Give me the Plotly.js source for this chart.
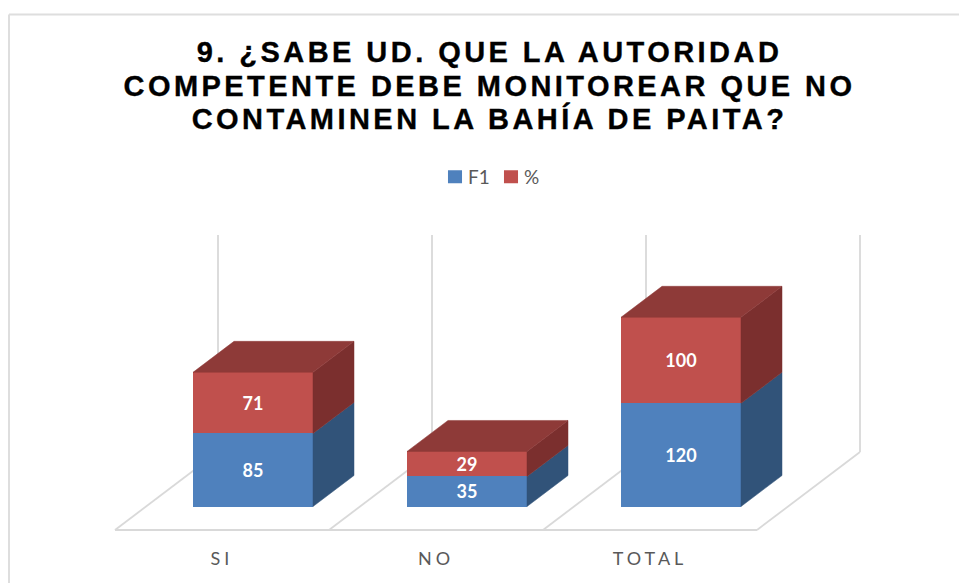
<!DOCTYPE html>
<html>
<head>
<meta charset="utf-8">
<script src="https://cdn.plot.ly/plotly-3.0.1.min.js"></script>
<style>
html,body{margin:0;padding:0;background:#fff;overflow:hidden}
#chart{width:959px;height:583px}
.gtitle{letter-spacing:3.45px;stroke:#000;stroke-width:0.35px}
.xtick text{letter-spacing:4px}
</style>
</head>
<body>
<div id="chart"></div>
<script>
const categories = ["SI", "NO", "TOTAL"];
const f1Values = [85, 35, 120];
const pctValues = [71, 29, 100];
const seriesNames = ["F1", "%"];
const titleText = "9. ¿SABE UD. QUE LA AUTORIDAD<br>COMPETENTE DEBE MONITOREAR QUE NO<br>CONTAMINEN LA BAHÍA DE PAITA?";

const W = 959, H = 583, plotBottom = 541;
const xUnit = 214, yUnit = 0.86, zeroPx = 506.5, firstTickPx = 222;
const barOffset = 31 / xUnit, barWidth = 120 / xUnit;
const depthX = 41 / xUnit, depthY = 31 / yUnit;
const floorY = -23.5 / yUnit, floorDX = 103 / xUnit, floorDY = 78 / yUnit, wallTop = 271.5 / yUnit;
const blue = "#4f81bd", red = "#c0504d", blueSide = "#315379", redSide = "#7b2f2e", redTop = "#8e3a38", grid = "#d9d9d9";

const idx = categories.map((_, i) => i);
const barX = idx.map(i => i + barOffset);

function face(xs, ys, color) {
  return {type: "scatter", mode: "lines", x: xs, y: ys, fill: "toself", fillcolor: color,
          line: {color: color, width: 0.5}, showlegend: false, hoverinfo: "skip"};
}
const faces = [];
idx.forEach(i => {
  const r = barX[i] + barWidth / 2, l = barX[i] - barWidth / 2;
  const a = f1Values[i], b = f1Values[i] + pctValues[i];
  faces.push(face([r, r + depthX, r + depthX, r, r], [0, depthY, a + depthY, a, 0], blueSide));
  faces.push(face([r, r + depthX, r + depthX, r, r], [a, a + depthY, b + depthY, b, a], redSide));
  faces.push(face([l, l + depthX, r + depthX, r, l], [b, b + depthY, b + depthY, b, b], redTop));
});

function barTrace(name, values, color) {
  return {type: "bar", name: name, x: barX, y: values, width: barWidth,
          marker: {color: color, line: {color: color, width: 0}},
          text: values.map(String), textposition: "inside", insidetextanchor: "middle",
          textangle: 0, constraintext: "none", cliponaxis: false,
          textfont: {family: "Lato, sans-serif", size: 18, color: "#fff", weight: 700},
          hoverinfo: "skip"};
}
const traces = [barTrace(seriesNames[0], f1Values, blue), barTrace(seriesNames[1], pctValues, red)].concat(faces);

const seg = (x0, y0, x1, y1) => ({type: "line", layer: "below", xref: "x", yref: "y", x0, y0, x1, y1,
                                   line: {color: grid, width: 1.8}});
const shapes = [seg(-0.5, floorY, categories.length - 0.5, floorY)];
for (let k = 0; k <= categories.length; k++) {
  const fx = k - 0.5;
  shapes.push(seg(fx, floorY, fx + floorDX, floorY + floorDY));
  shapes.push(seg(fx + floorDX, floorY + floorDY, fx + floorDX, wallTop));
}
const pBorder = (x0, y0, x1, y1) => ({type: "line", layer: "below", xref: "paper", yref: "paper",
   x0: x0 / W, x1: x1 / W, y0: 1 - y0 / plotBottom, y1: 1 - y1 / plotBottom, line: {color: "#dedede", width: 2}});
shapes.push(pBorder(9, 14.5, W, 14.5));
shapes.push(pBorder(9, 14.5, 9, H));

const layout = {
  width: W, height: H,
  margin: {l: 0, r: 0, t: 0, b: H - plotBottom, pad: 0},
  paper_bgcolor: "#fff", plot_bgcolor: "rgba(0,0,0,0)",
  barmode: "stack", hovermode: false,
  title: {text: titleText, x: 489.5 / W, xanchor: "center", xref: "paper", y: 1 - 62 / H, yref: "container", yanchor: "alphabetic",
          font: {family: "'Liberation Sans', Arial, sans-serif", size: 29, color: "#000", weight: 700}},
  xaxis: {range: [-firstTickPx / xUnit, (W - firstTickPx) / xUnit], tickmode: "array", tickvals: idx, ticktext: categories,
          showgrid: false, zeroline: false, showline: false, ticks: "", ticklen: 0, ticklabelstandoff: 5,
          tickfont: {family: "Lato, sans-serif", size: 18, color: "#595959"}, fixedrange: true},
  yaxis: {range: [(zeroPx - plotBottom) / yUnit, zeroPx / yUnit], visible: false, showgrid: false, zeroline: false, fixedrange: true},
  legend: {orientation: "h", traceorder: "normal", x: 494 / W, xanchor: "center", y: 1 - 177 / plotBottom, yanchor: "middle",
           font: {family: "Lato, sans-serif", size: 19, color: "#595959"}, bgcolor: "rgba(0,0,0,0)"},
  shapes: shapes,
  showlegend: true
};

const legendSwatchCenters = {"F1": 455, "%": 511};
Plotly.newPlot("chart", traces, layout, {displayModeBar: false, staticPlot: true}).then(() => {
  document.querySelectorAll(".gtitle tspan.line").forEach((t, i) => t.setAttribute("dy", (i * 33.5) + "px"));
  document.querySelectorAll(".legend .traces").forEach(g => {
    const txt = g.querySelector(".legendtext");
    const sw = g.querySelector(".legendpoints path");
    txt.setAttribute("x", 33);
    sw.setAttribute("transform", "translate(20,0) scale(1.17,1.08)");
    const target = legendSwatchCenters[txt.textContent];
    const r = sw.getBoundingClientRect();
    const m = /translate\(([-\d.]+)[, ]+([-\d.]+)\)/.exec(g.getAttribute("transform"));
    g.setAttribute("transform", `translate(${+m[1] + target - (r.left + r.right) / 2},${m[2]})`);
  });
});
</script>
</body>
</html>
